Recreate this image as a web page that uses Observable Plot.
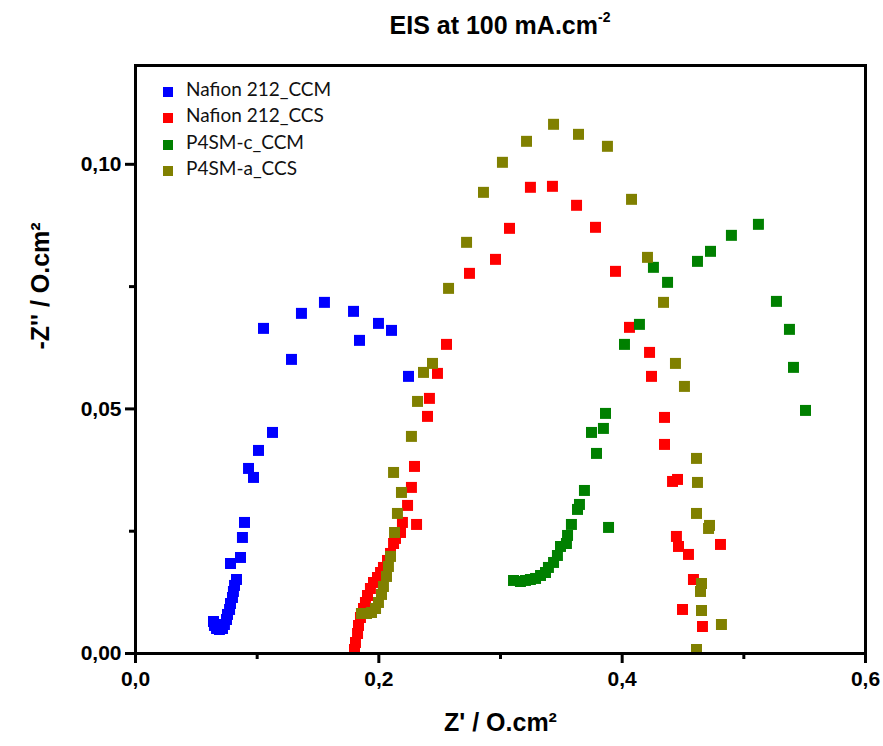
<!DOCTYPE html>
<html>
<head>
<meta charset="utf-8">
<script src="https://cdn.jsdelivr.net/npm/d3@7"></script>
<script src="https://cdn.jsdelivr.net/npm/@observablehq/plot@0.6"></script>
<style>
  html, body { margin: 0; padding: 0; background: #fff; }
  #wrap { position: relative; width: 883px; height: 746px; font-family: "Liberation Sans", Arial, sans-serif; }
  #wrap svg { position: absolute; left: 0; top: 0; }
  #title { position: absolute; left: 135px; width: 730px; top: 11px; text-align: center;
           font: bold 25px "Liberation Sans", Arial, sans-serif; color: #000; }
  #title sup { font-size: 14px; vertical-align: 0; position: relative; top: -12px; }
  #legend { position: absolute; left: 163px; top: 73px; font: 19px Lato, "Open Sans", sans-serif; color: #111; }
  #legend .row { height: 26.5px; display: flex; align-items: flex-end; }
  #legend .sw { width: 10px; height: 10px; margin-right: 13px; margin-bottom: 3px; }
</style>
</head>
<body>
<div id="wrap">
  <div id="title">EIS at 100 mA.cm<sup>-2</sup></div>
  <div id="legend"></div>
</div>
<script>
// ---- data ----
const seriesNames = ["Nafion 212_CCM", "Nafion 212_CCS", "P4SM-c_CCM", "P4SM-a_CCS"];
const seriesColors = ["#0000FF", "#FF0000", "#008000", "#808000"];

const xTicks = [0, 0.2, 0.4, 0.6];
const xMinorTicks = [0.1, 0.3, 0.5];
const yTicks = [0, 0.05, 0.10];
const yMinorTicks = [0.025, 0.075];

const nafionCcmX = [0.0641,0.0649,0.0666,0.0690,0.0715,0.0731,0.0748,0.0756,0.0773,0.0781,0.0797,0.0805,0.0814,0.0830,0.0781,0.0863,0.0879,0.0896,0.0970,0.0929,0.1011,0.1126,0.1282,0.1052,0.1364,0.1553,0.1792,0.1841,0.1997,0.2104,0.2244];
const nafionCcmY = [0.00654,0.00573,0.00511,0.00491,0.00511,0.00593,0.00695,0.00798,0.00900,0.01022,0.01145,0.01268,0.01391,0.01513,0.01840,0.01963,0.02372,0.02679,0.03599,0.03783,0.04151,0.04519,0.06012,0.06646,0.06953,0.07178,0.06994,0.06401,0.06748,0.06605,0.05665];

const nafionCcsX = [0.1800,0.1808,0.1825,0.1833,0.1849,0.1874,0.1890,0.1907,0.1931,0.1956,0.1989,0.2014,0.2038,0.2071,0.2096,0.2121,0.2137,0.2178,0.2194,0.2310,0.2236,0.2268,0.2293,0.2400,0.2416,0.2482,0.2556,0.2745,0.2959,0.3074,0.3246,0.3427,0.3625,0.3781,0.3945,0.4060,0.4225,0.4241,0.4348,0.4348,0.4414,0.4455,0.4446,0.4463,0.4545,0.4808,0.4586,0.4496,0.4660];
const nafionCcsY = [0.00082,0.00225,0.00409,0.00573,0.00736,0.00920,0.01043,0.01186,0.01329,0.01452,0.01554,0.01656,0.01759,0.01902,0.02045,0.02249,0.02352,0.02474,0.02679,0.02638,0.03027,0.03395,0.03824,0.04847,0.05215,0.05726,0.06319,0.07771,0.08057,0.08691,0.09530,0.09550,0.09162,0.08712,0.07812,0.06667,0.06155,0.05665,0.04826,0.04274,0.03517,0.03558,0.02393,0.02188,0.02025,0.02229,0.01513,0.00900,0.00552];

const p4smCX = [0.3107,0.3164,0.3205,0.3246,0.3288,0.3329,0.3370,0.3394,0.3436,0.3468,0.3493,0.3542,0.3551,0.3583,0.3633,0.3649,0.3690,0.3789,0.3748,0.3846,0.3863,0.3888,0.4019,0.4142,0.4257,0.4373,0.4619,0.4726,0.4898,0.5120,0.5268,0.5375,0.5408,0.5507];
const p4smCY = [0.01493,0.01472,0.01493,0.01513,0.01534,0.01595,0.01656,0.01759,0.01861,0.02004,0.02188,0.02249,0.02413,0.02638,0.02945,0.03047,0.03333,0.04090,0.04519,0.04601,0.04908,0.02577,0.06319,0.06728,0.07894,0.07587,0.08016,0.08221,0.08548,0.08773,0.07198,0.06626,0.05849,0.04969];

const p4smAX = [0.1857,0.1899,0.1940,0.1973,0.1997,0.2022,0.2038,0.2063,0.2079,0.2096,0.2129,0.2153,0.2186,0.2121,0.2268,0.2318,0.2367,0.2441,0.2573,0.2721,0.2860,0.3016,0.3214,0.3436,0.3641,0.3879,0.4077,0.4208,0.4340,0.4438,0.4512,0.4611,0.4619,0.4611,0.4718,0.4710,0.4652,0.4644,0.4652,0.4816,0.4611];
const p4smAY = [0.00818,0.00818,0.00838,0.00920,0.01043,0.01207,0.01370,0.01575,0.01779,0.01984,0.02474,0.02863,0.03292,0.03701,0.04438,0.05153,0.05746,0.05930,0.07464,0.08405,0.09427,0.10041,0.10470,0.10818,0.10613,0.10368,0.09284,0.08098,0.07178,0.05930,0.05460,0.03988,0.03497,0.02863,0.02618,0.02556,0.01431,0.01268,0.00879,0.00593,0.00082];

// ---- build table ----
const seriesX = [nafionCcmX, nafionCcsX, p4smCX, p4smAX];
const seriesY = [nafionCcmY, nafionCcsY, p4smCY, p4smAY];
const points = [];
seriesNames.forEach((name, i) => {
  seriesX[i].forEach((x, j) => points.push({series: name, x, y: seriesY[i][j]}));
});

const fmtX = d => d.toFixed(1).replace(".", ",");
const fmtY = d => d.toFixed(2).replace(".", ",");

const chart = Plot.plot({
  width: 883,
  height: 746,
  marginLeft: 135,
  marginRight: 18,
  marginTop: 65,
  marginBottom: 93,
  style: {fontFamily: "'Liberation Sans', Arial, sans-serif", color: "#000", background: "transparent"},
  x: {domain: [0, 0.6], label: null},
  y: {domain: [0, 0.1202], label: null},
  color: {domain: seriesNames, range: seriesColors},
  marks: [
    Plot.dot(points, {x: "x", y: "y", fill: "series", symbol: "square", r: 6.2}),
    Plot.frame({stroke: "#000", strokeWidth: 3}),
    Plot.axisX(xTicks, {tickSize: 10, strokeWidth: 3, tickPadding: 8, tickFormat: fmtX, fontSize: 21, fontWeight: "bold", label: null}),
    Plot.axisX(xMinorTicks, {tickSize: 6, strokeWidth: 3, tickFormat: () => "", label: null}),
    Plot.axisY(yTicks, {tickSize: 10, strokeWidth: 3, tickPadding: 4, tickFormat: fmtY, fontSize: 21, fontWeight: "bold", label: null}),
    Plot.axisY(yMinorTicks, {tickSize: 6, strokeWidth: 3, tickFormat: () => "", label: null}),
    Plot.text(["Z' / O.cm²"], {frameAnchor: "bottom", dy: 77, fontSize: 25, fontWeight: "bold", fill: "#000"}),
    Plot.text(["-Z'' / O.cm²"], {frameAnchor: "left", dx: -95, dy: -10, rotate: -90, fontSize: 25, fontWeight: "bold", fill: "#000"})
  ]
});
document.getElementById("wrap").appendChild(chart);

// legend (HTML)
const legend = document.getElementById("legend");
seriesNames.forEach((name, i) => {
  const row = document.createElement("div");
  row.className = "row";
  const sw = document.createElement("div");
  sw.className = "sw";
  sw.style.background = seriesColors[i];
  const label = document.createElement("span");
  label.textContent = name;
  row.appendChild(sw);
  row.appendChild(label);
  legend.appendChild(row);
});
</script>
</body>
</html>
